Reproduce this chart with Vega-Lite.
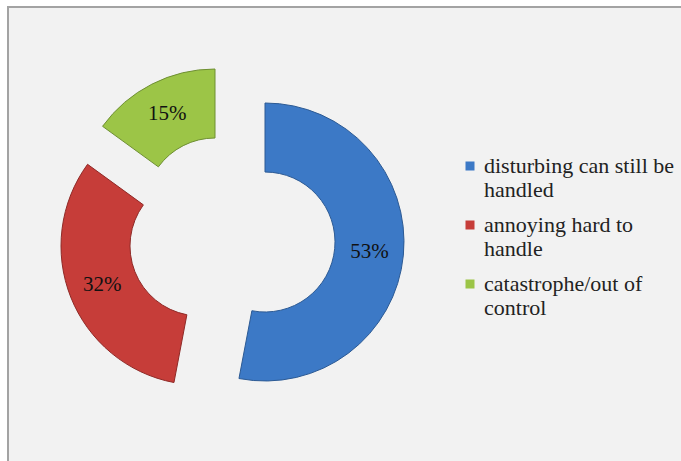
{
  "$schema": "https://vega.github.io/schema/vega-lite/v6.json",
  "autosize": "none",
  "width": 680,
  "height": 460,
  "padding": {"left": 8, "top": 7, "right": 0, "bottom": 0},
  "background": "white",
  "view": {"fill": "#f2f2f2", "stroke": "#a3a3a3", "strokeWidth": 2},
  "config": {
    "font": "Liberation Serif"
  },
  "data": {
    "values": [
      {"category": "disturbing can still be handled", "value": 53, "label": "53%"},
      {"category": "annoying hard to handle", "value": 32, "label": "32%"},
      {"category": "catastrophe/out of control", "value": 15, "label": "15%"}
    ]
  },
  "transform": [
    {"stack": "value", "groupby": [], "as": ["start", "end"]},
    {"calculate": "(datum.start + datum.end) / 2", "as": "mid"}
  ],
  "layer": [
    {
      "mark": {"type": "rule", "opacity": 0},
      "encoding": {
        "x": {"datum": 0, "type": "quantitative", "axis": null}
      }
    },
    {
      "transform": [{"filter": "datum.category === 'disturbing can still be handled'"}],
      "mark": {"type": "arc", "outerRadius": 139, "innerRadius": 70, "xOffset": -83, "yOffset": 5, "stroke": "#2c5a94", "strokeWidth": 1},
      "encoding": {
        "theta": {"field": "start", "type": "quantitative", "scale": {"domain": [0, 100]}},
        "theta2": {"field": "end"},
        "color": {"field": "category", "type": "nominal"}
      }
    },
    {
      "transform": [{"filter": "datum.category === 'annoying hard to handle'"}],
      "mark": {"type": "arc", "outerRadius": 139, "innerRadius": 70, "xOffset": -148, "yOffset": 9, "stroke": "#8f2a27", "strokeWidth": 1},
      "encoding": {
        "theta": {"field": "start", "type": "quantitative", "scale": {"domain": [0, 100]}},
        "theta2": {"field": "end"},
        "color": {"field": "category", "type": "nominal"}
      }
    },
    {
      "transform": [{"filter": "datum.category === 'catastrophe/out of control'"}],
      "mark": {"type": "arc", "outerRadius": 139, "innerRadius": 70, "xOffset": -133, "yOffset": -29, "stroke": "#6e8f32", "strokeWidth": 1},
      "encoding": {
        "theta": {"field": "start", "type": "quantitative", "scale": {"domain": [0, 100]}},
        "theta2": {"field": "end"},
        "color": {
          "field": "category",
          "type": "nominal",
          "scale": {
            "domain": ["disturbing can still be handled", "annoying hard to handle", "catastrophe/out of control"],
            "range": ["#3c79c6", "#c63d39", "#9cc547"]
          },
          "legend": {
            "title": null,
            "orient": "none",
            "legendX": 451,
            "legendY": 148,
            "padding": 0,
            "symbolType": "square",
            "symbolSize": 81,
            "symbolStrokeWidth": 0,
            "labelFont": "Liberation Serif",
            "labelFontSize": 22,
            "labelColor": "#222222",
            "labelLimit": 400,
            "labelOffset": 3,
            "rowPadding": 13,
            "labelExpr": "datum.label === 'disturbing can still be handled' ? ['disturbing can still be', 'handled'] : datum.label === 'annoying hard to handle' ? ['annoying hard to', 'handle'] : ['catastrophe/out of', 'control']"
          }
        }
      }
    },
    {
      "transform": [{"filter": "datum.category === 'disturbing can still be handled'"}],
      "mark": {"type": "text", "radius": 105, "xOffset": -83, "yOffset": 5, "font": "Liberation Serif", "fontSize": 21, "color": "#111111"},
      "encoding": {
        "theta": {"field": "mid", "type": "quantitative", "scale": {"domain": [0, 100]}},
        "text": {"field": "label"}
      }
    },
    {
      "transform": [{"filter": "datum.category === 'annoying hard to handle'"}],
      "mark": {"type": "text", "radius": 105, "xOffset": -148, "yOffset": 9, "font": "Liberation Serif", "fontSize": 21, "color": "#111111"},
      "encoding": {
        "theta": {"field": "mid", "type": "quantitative", "scale": {"domain": [0, 100]}},
        "text": {"field": "label"}
      }
    },
    {
      "transform": [{"filter": "datum.category === 'catastrophe/out of control'"}],
      "mark": {"type": "text", "radius": 105, "xOffset": -133, "yOffset": -29, "font": "Liberation Serif", "fontSize": 21, "color": "#111111"},
      "encoding": {
        "theta": {"field": "mid", "type": "quantitative", "scale": {"domain": [0, 100]}},
        "text": {"field": "label"}
      }
    }
  ]
}
